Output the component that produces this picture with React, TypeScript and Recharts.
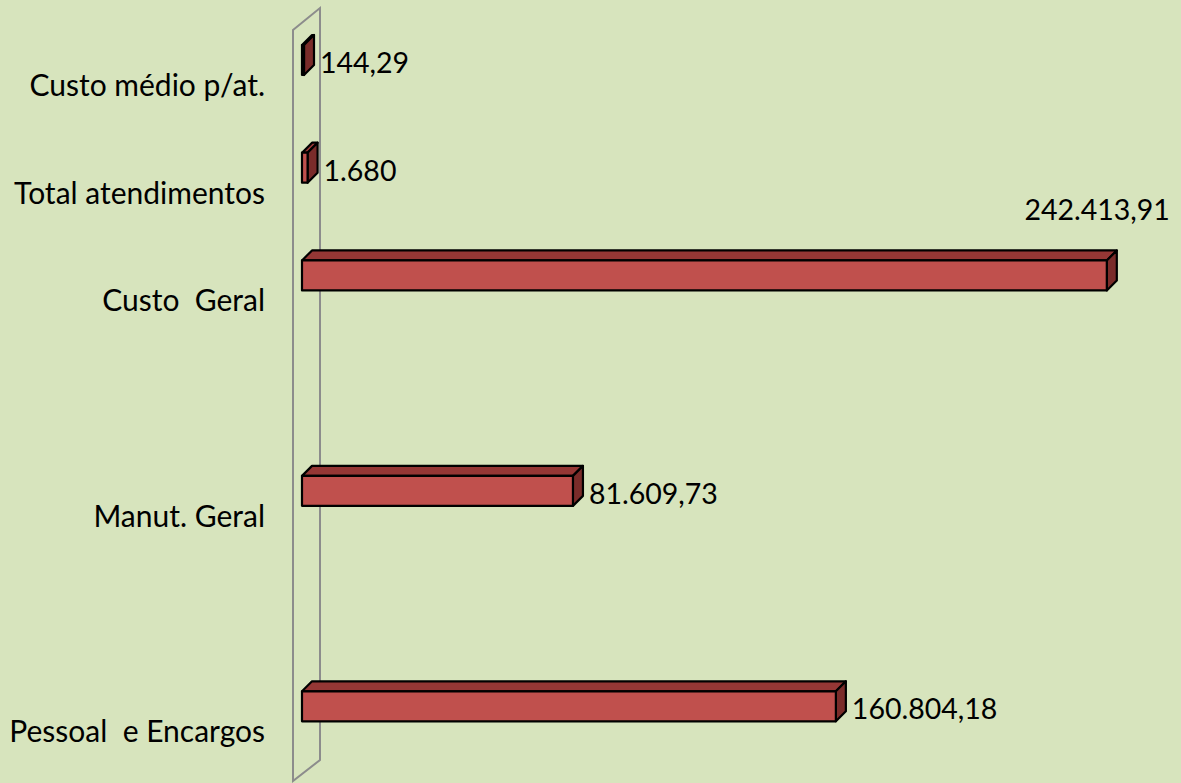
import { BarChart, Bar, XAxis, YAxis, LabelList } from 'recharts';

// blank rows keep the gaps between the groups
const categories = ['Custo médio p/at.', 'Total atendimentos', 'Custo  Geral', ' ', 'Manut. Geral', '  ', 'Pessoal  e Encargos'];
const values: (number | null)[] = [144.29, 1680, 242413.91, null, 81609.73, null, 160804.18];

const data = categories.map((name, i) => ({ name, value: values[i] }));

const BG = '#D7E4BD';
const FONT = 'Lato, "Open Sans", sans-serif';
const D = 10;

const fmt = (v: number) => {
  const neg = v < 0;
  const n = Math.abs(v);
  const isInt = Number.isInteger(n);
  const [ip, dp] = (isInt ? n.toFixed(0) : n.toFixed(2)).split('.');
  const grouped = ip.replace(/\B(?=(\d{3})+(?!\d))/g, '.');
  return (neg ? '-' : '') + grouped + (dp ? ',' + dp : '');
};

const Bar3D = (props: any) => {
  const { x, y, width, height, value } = props;
  if (value == null || !height) return null;
  const w = Math.max(width, 2);
  return (
    <g stroke="#000" strokeWidth={2.2} strokeLinejoin="round">
      <polygon points={`${x},${y} ${x + D},${y - D} ${x + w + D},${y - D} ${x + w},${y}`} fill="#953735" />
      <polygon points={`${x + w},${y} ${x + w + D},${y - D} ${x + w + D},${y + height - D} ${x + w},${y + height}`} fill="#7A2C2A" />
      <rect x={x} y={y} width={w} height={height} fill="#C0504D" />
    </g>
  );
};

const ValueLabel = (props: any) => {
  const { x, y, width, height, value } = props;
  if (value == null) return null;
  const end = x + width;
  if (end > 1000) {
    return (
      <text x={end + 63} y={y - 40} textAnchor="end" fontSize={28.5} fontFamily={FONT} fill="#000">
        {fmt(value)}
      </text>
    );
  }
  return (
    <text x={end + 16} y={y + height / 2 + 13} textAnchor="start" fontSize={28.5} fontFamily={FONT} fill="#000">
      {fmt(value)}
    </text>
  );
};

const CatTick = (props: any) => {
  const { y, payload } = props;
  const label = String(payload.value).trim();
  if (!label) return null;
  return (
    <text x={265} y={y + 36} textAnchor="end" fontSize={30} fontFamily={FONT} fill="#000" style={{ whiteSpace: 'pre' }}>
      {payload.value}
    </text>
  );
};

export default function App() {
  return (
    <div style={{ position: 'relative', width: 1181, height: 783, background: BG }}>
      <style>{'body{margin:0}'}</style>
      <svg width={1181} height={783} style={{ position: 'absolute', left: 0, top: 0 }}>
        <g stroke="#8C8C8C" strokeWidth={2} fill="none">
          <polygon points="293,30 320,8 320,760 293,781" />
        </g>
      </svg>
      <div style={{ position: 'absolute', left: 0, top: 0 }}>
        <BarChart width={1181} height={783} data={data} layout="vertical" margin={{ top: 6, right: 49, bottom: 23, left: 0 }}>
          <XAxis type="number" hide domain={[0, 250000]} />
          <YAxis type="category" dataKey="name" width={302} axisLine={false} tickLine={false} tick={<CatTick />} interval={0} />
          <Bar dataKey="value" barSize={30} shape={<Bar3D />} minPointSize={2} isAnimationActive={false}>
            <LabelList dataKey="value" content={<ValueLabel />} />
          </Bar>
        </BarChart>
      </div>
    </div>
  );
}
